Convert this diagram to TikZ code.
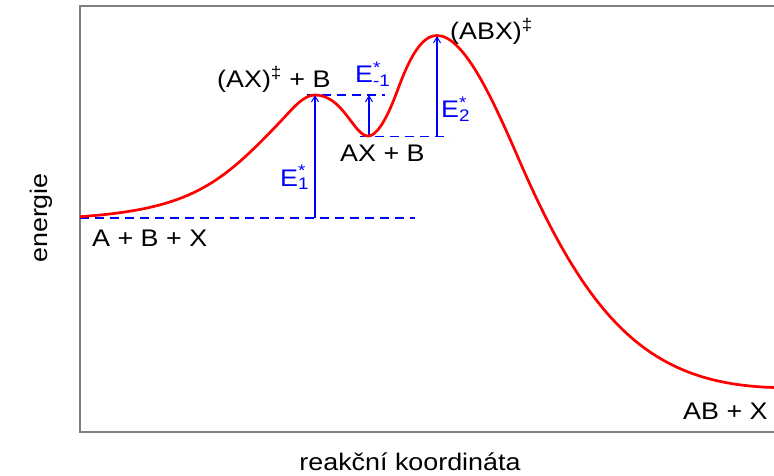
\documentclass[tikz,border=0pt]{standalone}
\usepackage{fontspec}
\setmainfont{Liberation Sans}[FakeStretch=1.12]
\usetikzlibrary{arrows.meta}
\newcommand\Estar[1]{E\rlap{\textsuperscript{*}}\textsubscript{#1}}
\begin{document}
\begin{tikzpicture}[x=1pt,y=-1pt,
  lbl/.style={font=\fontsize{24}{28}\selectfont, inner sep=0pt, text=black},
  elbl/.style={lbl, text={rgb,255:red,0;green,0;blue,255}},
  frame/.style={draw={rgb,255:red,128;green,128;blue,128}, line width=1.5pt},
  curve/.style={draw={rgb,255:red,255;green,0;blue,0}, line width=2.7pt, line join=round},
  level/.style={draw={rgb,255:red,0;green,0;blue,255}, line width=1.7pt, dash pattern=on 9pt off 6pt},
  arr/.style={draw={rgb,255:red,0;green,0;blue,255}, line width=1.2pt, -{Straight Barb[length=6pt,width=7pt,line width=1pt]}}]
\useasboundingbox (0,0) rectangle (774,476);
% frame
\coordinate (ftr) at (774,6);
\coordinate (ftl) at (80,6);
\coordinate (fbl) at (80,432);
\coordinate (fbr) at (774,432);
\draw[frame] (ftr) -- (ftl) -- (fbl) -- (fbr);
% levels
\coordinate (l0a) at (80,218.3);
\coordinate (l0b) at (415,218.3);
\coordinate (l1a) at (307,95);
\coordinate (l1b) at (385,95);
\coordinate (l2a) at (360,136.5);
\coordinate (l2b) at (450,136.5);
\draw[level] (l0a) -- (l0b);
\draw[level] (l1a) -- (l1b);
\draw[level] (l2a) -- (l2b);
% arrows
\coordinate (e1b) at (315,218.3);
\coordinate (e1t) at (315,95);
\coordinate (emb) at (369,136.5);
\coordinate (emt) at (369,95);
\coordinate (e2b) at (437,136.5);
\coordinate (e2t) at (437,36);
\draw[arr] (e1b) -- (e1t);
\draw[arr] (emb) -- (emt);
\draw[arr] (e2b) -- (e2t);
% curve
\coordinate (c0) at (80,216.7);
\coordinate (c1) at (280,122);
\coordinate (p1) at (315,95);
\coordinate (m1) at (368,136);
\coordinate (c2) at (398,89);
\coordinate (p2) at (437,35.5);
\coordinate (c3) at (520,162);
\coordinate (c4) at (774,387.5);
\draw[curve] (c0) .. controls (190,209) and (220,185) .. (c1)
  .. controls (292,109.4) and (303,95) .. (p1)
  .. controls (343,95) and (354,136) .. (m1)
  .. controls (380,136) and (392,105.2) .. (c2)
  .. controls (409,59.3) and (421,35.5) .. (p2)
  .. controls (465,35.5) and (495,104.5) .. (c3)
  .. controls (592,327.6) and (654,384) .. (c4);
% labels
\node[lbl, anchor=base west] (ts1) at (217,88) {(AX)\textsuperscript{‡} + B};
\node[lbl, anchor=base west] (ts2) at (450,40) {(ABX)\textsuperscript{‡}};
\node[lbl, anchor=base west] (int) at (340,162) {AX + B};
\node[lbl, anchor=base west] (rea) at (92,246.5) {A + B + X};
\node[lbl, anchor=base west] (pro) at (683,419) {AB + X};
\node[elbl, anchor=base west] (E1) at (280,186) {\Estar{1}};
\node[elbl, anchor=base west] (Em1) at (355,83) {\Estar{-1}};
\node[elbl, anchor=base west] (E2) at (441,118) {\Estar{2}};
\node[lbl, anchor=base, rotate=90] (yl) at (47,218) {energie};
\node[lbl, anchor=base] (xl) at (410,470) {reakční koordináta};
\end{tikzpicture}
\end{document}
